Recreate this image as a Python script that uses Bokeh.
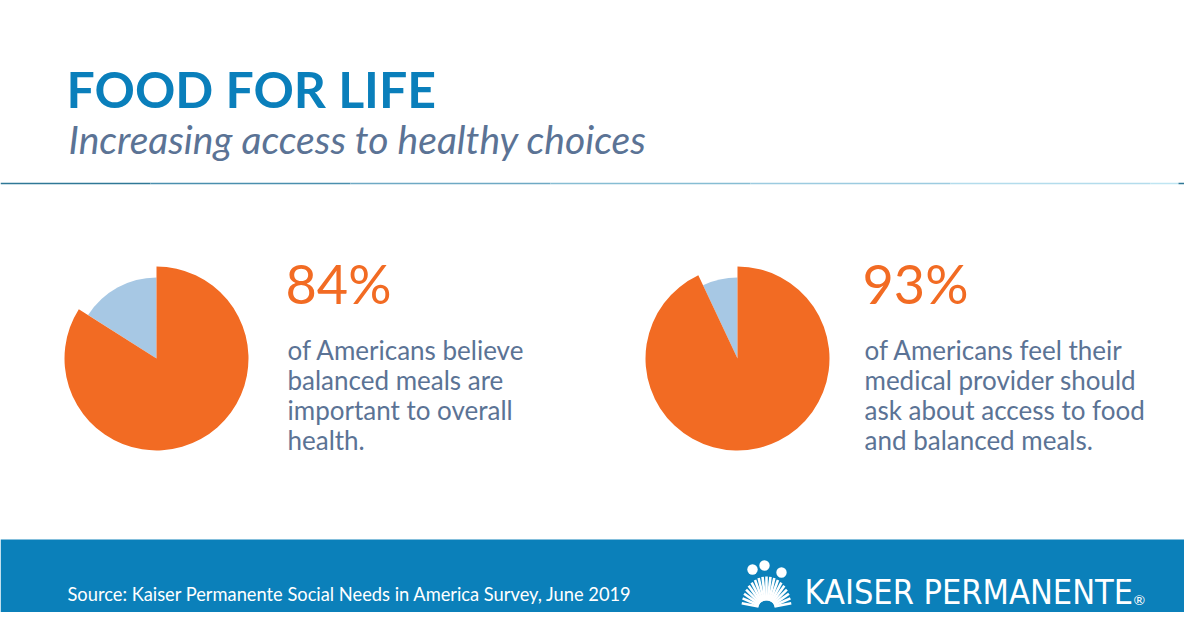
import math
from bokeh.plotting import figure
from bokeh.models import Range1d
from bokeh.core.properties import value
from bokeh.embed import file_html
from bokeh.resources import INLINE

# ---- content ----
title = "FOOD FOR LIFE"
subtitle = "Increasing access to healthy choices"
percent_values = [84, 93]
percent_labels = ["84%", "93%"]
descriptions = [
    ["of Americans believe", "balanced meals are", "important to overall", "health."],
    ["of Americans feel their", "medical provider should", "ask about access to food", "and balanced meals."],
]
source_text = "Source: Kaiser Permanente Social Needs in America Survey, June 2019"
brand_text = "KAISER PERMANENTE"

# ---- styles ----
BLUE = "#0a7fbb"
ORANGE = "#f26b23"
LIGHT = "#a7c8e4"
SLATE = "#5b7395"
BAND = "#0b80ba"
FONT = "Lato"

H = 628
def Y(y):
    return H - y

p = figure(width=1184, height=612, x_range=Range1d(0, 1184), y_range=Range1d(16, 628),
           output_backend="svg", toolbar_location=None, min_border=0,
           x_axis_location=None, y_axis_location=None)
p.grid.visible = False
p.outline_line_color = None
p.background_fill_color = "white"
p.border_fill_color = "white"

# title & subtitle
p.text(x=[66], y=[Y(88)], text=[title], text_font=value(FONT), text_font_style="bold",
       text_font_size="50px", text_color=BLUE, text_baseline="middle")
p.text(x=[68], y=[Y(138)], text=[subtitle], text_font=value(FONT), text_font_style="italic",
       text_font_size="39px", text_color=SLATE, text_baseline="middle")

# divider with a soft gradient
div_cols = ["#2f7896", "#4a8fae", "#6ea9c4", "#86bdd3", "#9ccbe0", "#b3dcec", "#bfe5f2", "#2f7896"]
div_x = [0, 150, 350, 550, 750, 950, 1150, 1178, 1200]
for i, c in enumerate(div_cols):
    p.segment(x0=[div_x[i]], y0=[Y(183)], x1=[div_x[i + 1]], y1=[Y(183)], line_color=c, line_width=1.5)

# pies
centers_x = [156, 737]
center_y = 358
R_out = 92
R_in = 81
text_x = [287, 864]
for v, lab, desc, cx, tx in zip(percent_values, percent_labels, descriptions, centers_x, text_x):
    rest_angle = (100 - v) * 3.6
    p.wedge(x=[cx], y=[Y(center_y)], radius=R_in,
            start_angle=[math.radians(90)], end_angle=[math.radians(90 + rest_angle)],
            fill_color=LIGHT, line_color=None)
    p.wedge(x=[cx], y=[Y(center_y)], radius=R_out,
            start_angle=[math.radians(90 + rest_angle)], end_angle=[math.radians(450)],
            fill_color=ORANGE, line_color=None)
    p.text(x=[tx - 2], y=[Y(283)], text=[lab], text_font=value(FONT), text_font_size="54px",
           text_color=ORANGE, text_baseline="middle")
    for i, line in enumerate(desc):
        p.text(x=[tx], y=[Y(349 + 30 * i)], text=[line], text_font=value(FONT),
               text_font_size="26px", text_color=SLATE, text_baseline="middle")

# footer band
p.quad(left=[0], right=[1200], bottom=[0], top=[Y(539)], fill_color=BAND, line_color=None)
p.text(x=[67], y=[Y(593)], text=[source_text], text_font=value(FONT), text_font_size="18.3px",
       text_color="white", text_baseline="middle")

# logo symbol: rays + heads
lcx, lcy = 766, 607
rays_x0, rays_y0, rays_x1, rays_y1 = [], [], [], []
n_rays = 19
for k in range(n_rays):
    a = math.radians(8 + k * (164 / (n_rays - 1)))
    rays_x0.append(lcx + 8 * math.cos(a)); rays_y0.append(Y(lcy) + 7 * math.sin(a))
    rays_x1.append(lcx + 25 * math.cos(a)); rays_y1.append(Y(lcy) + 31 * math.sin(a))
p.segment(x0=rays_x0, y0=rays_y0, x1=rays_x1, y1=rays_y1, line_color="white", line_width=2.6)
p.circle(x=[752, 764, 781], y=[Y(569), Y(565), Y(572)], radius=5.2, fill_color="white", line_color=None)

p.text(x=[804], y=[Y(591)], text=[brand_text],
       text_font=value("'Liberation Sans Narrow', 'DejaVu Sans Condensed', Roboto, sans-serif"),
       text_font_size="34px", text_color="white", text_baseline="middle")
p.text(x=[1133], y=[Y(599)], text=["®"], text_font=value(FONT), text_font_size="14px",
       text_color="white", text_baseline="middle")

open("out.html", "w").write(file_html(p, INLINE))
